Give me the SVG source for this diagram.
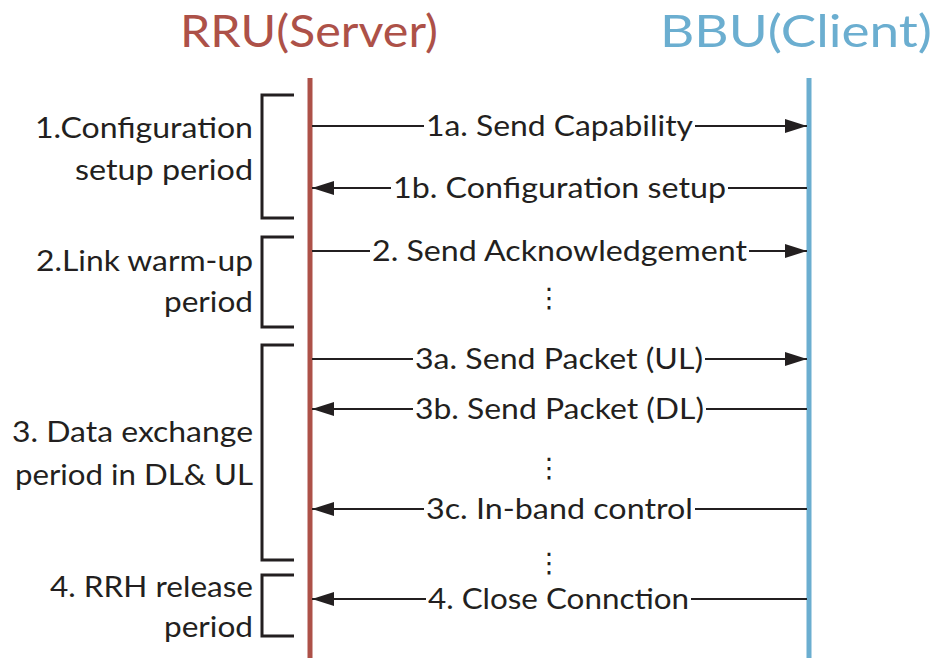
<svg xmlns="http://www.w3.org/2000/svg" width="936" height="658" viewBox="0 0 936 658">
<defs>
<style>
.t{font-family:Lato,"Open Sans","Liberation Sans",sans-serif;font-size:29px;fill:#231f20}
.title{font-family:Lato,"Open Sans","Liberation Sans",sans-serif;font-size:44px}
.lbl{text-anchor:end}
.msg{text-anchor:middle}
.ln{stroke:#231f20;stroke-width:2;fill:none}
.br{stroke:#231f20;stroke-width:3;fill:none}
.dots{font-family:"DejaVu Sans",sans-serif;font-size:27px;fill:#231f20;text-anchor:middle}
</style>
<marker id="ah" viewBox="0 0 22 14" refX="22" refY="7" markerWidth="22" markerHeight="14" markerUnits="userSpaceOnUse" orient="auto">
<path d="M0,0 L22,7 L0,14 Z" fill="#231f20"/>
</marker>
</defs>
<rect width="936" height="658" fill="#fff"/>
<g id="rru">
<text class="title" x="309" y="47" text-anchor="middle" fill="#AD5148" textLength="258" lengthAdjust="spacingAndGlyphs">RRU(Server)</text>
<line x1="310" y1="78" x2="310" y2="658" stroke="#AD5148" stroke-width="5"/>
</g>
<g id="bbu">
<text class="title" x="796" y="47" text-anchor="middle" fill="#6BAED0" textLength="272" lengthAdjust="spacingAndGlyphs">BBU(Client)</text>
<line x1="809" y1="78" x2="809" y2="658" stroke="#6BAED0" stroke-width="5"/>
</g>
<g id="phase1">
<path class="br" d="M294,95 H262 V218 H294"/>
<text class="t lbl" x="253" y="138" textLength="218" lengthAdjust="spacingAndGlyphs">1.Configuration</text>
<text class="t lbl" x="253" y="180" textLength="178" lengthAdjust="spacingAndGlyphs">setup period</text>
</g>
<g id="phase2">
<path class="br" d="M294,237 H262 V327 H294"/>
<text class="t lbl" x="253" y="271" textLength="217" lengthAdjust="spacingAndGlyphs">2.Link warm-up</text>
<text class="t lbl" x="253" y="312" textLength="89" lengthAdjust="spacingAndGlyphs">period</text>
</g>
<g id="phase3">
<path class="br" d="M294,345 H262 V560 H294"/>
<text class="t lbl" x="253" y="442" textLength="241" lengthAdjust="spacingAndGlyphs">3. Data exchange</text>
<text class="t lbl" x="253" y="485" textLength="238" lengthAdjust="spacingAndGlyphs">period in DL&amp; UL</text>
</g>
<g id="phase4">
<path class="br" d="M294,575 H262 V636 H294"/>
<text class="t lbl" x="253" y="597" textLength="203" lengthAdjust="spacingAndGlyphs">4. RRH release</text>
<text class="t lbl" x="253" y="637" textLength="89" lengthAdjust="spacingAndGlyphs">period</text>
</g>
<g id="connectors">
<line class="ln" x1="312" y1="126" x2="424" y2="126"/>
<line class="ln" x1="695" y1="126" x2="807" y2="126" marker-end="url(#ah)"/>
<line class="ln" x1="807" y1="188" x2="728" y2="188"/>
<line class="ln" x1="391" y1="188" x2="312" y2="188" marker-end="url(#ah)"/>
<line class="ln" x1="312" y1="251" x2="370" y2="251"/>
<line class="ln" x1="749" y1="251" x2="807" y2="251" marker-end="url(#ah)"/>
<line class="ln" x1="312" y1="359" x2="413" y2="359"/>
<line class="ln" x1="705" y1="359" x2="807" y2="359" marker-end="url(#ah)"/>
<line class="ln" x1="807" y1="409" x2="706" y2="409"/>
<line class="ln" x1="413" y1="409" x2="312" y2="409" marker-end="url(#ah)"/>
<line class="ln" x1="807" y1="509" x2="695" y2="509"/>
<line class="ln" x1="424" y1="509" x2="312" y2="509" marker-end="url(#ah)"/>
<line class="ln" x1="807" y1="599" x2="691" y2="599"/>
<line class="ln" x1="426" y1="599" x2="312" y2="599" marker-end="url(#ah)"/>
</g>
<g id="labels">
<text class="t msg" x="559.5" y="136" textLength="267" lengthAdjust="spacingAndGlyphs">1a. Send Capability</text>
<text class="t msg" x="559.5" y="198" textLength="333" lengthAdjust="spacingAndGlyphs">1b. Configuration setup</text>
<text class="t msg" x="559.5" y="261" textLength="375" lengthAdjust="spacingAndGlyphs">2. Send Acknowledgement</text>
<text class="t msg" x="559" y="369" textLength="288" lengthAdjust="spacingAndGlyphs">3a. Send Packet (UL)</text>
<text class="t msg" x="559.5" y="419" textLength="289" lengthAdjust="spacingAndGlyphs">3b. Send Packet (DL)</text>
<text class="t msg" x="559.5" y="519" textLength="267" lengthAdjust="spacingAndGlyphs">3c. In-band control</text>
<text class="t msg" x="558.5" y="609" textLength="261" lengthAdjust="spacingAndGlyphs">4. Close Connction</text>
<text class="dots" x="549" y="307">⋮</text>
<text class="dots" x="549" y="477">⋮</text>
<text class="dots" x="549" y="572">⋮</text>
</g>
</svg>
